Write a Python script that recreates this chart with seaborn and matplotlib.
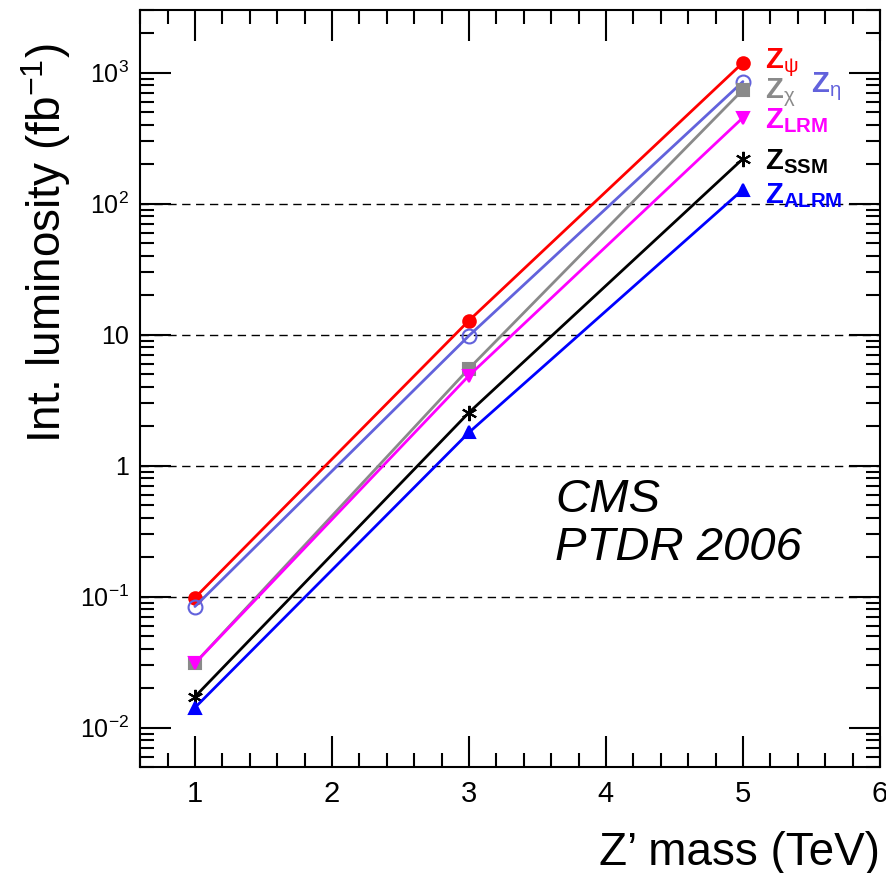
import numpy as np
import pandas as pd
import matplotlib
matplotlib.use("Agg")
import matplotlib.pyplot as plt
import matplotlib.ticker as mticker
import seaborn as sns

# Z' boson discovery reach: integrated luminosity needed vs. Z' mass
mass_tev = [1, 3, 5]
lumi_psi = [0.098, 12.8, 1190]
lumi_eta = [0.084, 9.8, 854]
lumi_chi = [0.031, 5.5, 740]
lumi_lrm = [0.031, 4.86, 453]
lumi_ssm = [0.0172, 2.54, 220]
lumi_alrm = [0.0142, 1.79, 128]

model_keys = ["psi", "eta", "chi", "LRM", "SSM", "ALRM"]
model_labels = [r"$\mathbf{Z}_{\mathrm{\psi}}$", r"$\mathbf{Z}_{\mathrm{\eta}}$",
                r"$\mathbf{Z}_{\mathrm{\chi}}$", r"$\mathbf{Z}_{\mathbf{LRM}}$",
                r"$\mathbf{Z}_{\mathbf{SSM}}$", r"$\mathbf{Z}_{\mathbf{ALRM}}$"]

xtick_vals = [1, 2, 3, 4, 5, 6]
ytick_vals = [1e-2, 1e-1, 1, 10, 1e2, 1e3]
ytick_labels = [r"$\mathregular{10^{-2}}$", r"$\mathregular{10^{-1}}$", "1", "10",
                r"$\mathregular{10^{2}}$", r"$\mathregular{10^{3}}$"]
grid_levels = [1e-1, 1, 10, 1e2]

series = {
    "psi": lumi_psi, "eta": lumi_eta, "chi": lumi_chi,
    "LRM": lumi_lrm, "SSM": lumi_ssm, "ALRM": lumi_alrm,
}
df = pd.concat(
    [pd.DataFrame({"mass": mass_tev, "lumi": vals, "model": key}) for key, vals in series.items()],
    ignore_index=True,
)

sns.set_theme(style="white")
plt.rcParams["font.family"] = ["Liberation Sans", "DejaVu Sans"]
plt.rcParams["mathtext.fontset"] = "custom"
plt.rcParams["mathtext.rm"] = "Liberation Sans"
plt.rcParams["mathtext.it"] = "Liberation Sans:italic"
plt.rcParams["mathtext.bf"] = "Liberation Sans:bold"
plt.rcParams["text.color"] = "black"
plt.rcParams["xtick.color"] = "black"
plt.rcParams["ytick.color"] = "black"
plt.rcParams["axes.labelcolor"] = "black"

styles = {
    "psi":  dict(color="#ff0000", marker="o", mfc="#ff0000", ms=9),
    "eta":  dict(color="#6262dc", marker="o", mfc="none", ms=10),
    "chi":  dict(color="#8a8a8a", marker="s", mfc="#8a8a8a", ms=9),
    "LRM":  dict(color="#ff00ff", marker="v", mfc="#ff00ff", ms=9),
    "SSM":  dict(color="#000000", marker=(6, 2, 0), mfc="#000000", ms=11),
    "ALRM": dict(color="#0000ff", marker="^", mfc="#0000ff", ms=9),
}

fig = plt.figure(figsize=(8.87, 8.73), dpi=100)
ax = fig.add_axes([0.158, 0.1214, 0.834, 0.867])

for key in model_keys:
    st = styles[key]
    sub = df[df["model"] == key]
    sns.lineplot(data=sub, x="mass", y="lumi", ax=ax, color=st["color"], linewidth=2,
                 marker=st["marker"], markersize=st["ms"], markerfacecolor=st["mfc"],
                 markeredgecolor=st["color"], markeredgewidth=1.5, legend=False)

ax.set_yscale("log")
ax.set_xlim(0.6, 6.0)
ax.set_ylim(0.005, 3000)

ax.hlines(grid_levels, 0.6, 6.0, colors="black", linestyles=(0, (6, 4)), linewidth=1.0, zorder=0)

# Model labels next to the 5 TeV points
lab_off = {"psi": (5.16, 0), "eta": (5.50, -4), "chi": (5.16, -2),
           "LRM": (5.16, -2), "SSM": (5.16, -2), "ALRM": (5.16, -4)}
for key, lab in zip(model_keys, model_labels):
    xl, dy = lab_off[key]
    ax.annotate(lab, xy=(xl, series[key][-1]), xytext=(0, dy), textcoords="offset points",
                color=styles[key]["color"], fontsize=21, ha="left", va="center")

ax.text(3.63, 0.8, "CMS\nPTDR 2006", fontsize=34, fontstyle="italic", ha="left", va="top",
        linespacing=1.1, color="black")

ax.xaxis.set_major_locator(mticker.FixedLocator(xtick_vals))
ax.xaxis.set_minor_locator(mticker.MultipleLocator(0.2))
ax.set_xticklabels([str(v) for v in xtick_vals])
ax.yaxis.set_major_locator(mticker.FixedLocator(ytick_vals))
ax.set_yticklabels(ytick_labels)
ax.yaxis.set_minor_locator(mticker.LogLocator(base=10, subs=np.arange(2, 10)))
ax.yaxis.set_minor_formatter(mticker.NullFormatter())

ax.tick_params(which="both", direction="in", top=True, right=True, bottom=True, left=True,
               width=1.5, color="black")
ax.tick_params(which="major", length=22)
ax.tick_params(which="minor", length=10)
ax.tick_params(axis="x", which="major", labelsize=21, pad=9, labelcolor="black")
ax.tick_params(axis="y", which="major", labelsize=18, pad=8, labelcolor="black")

for sp in ax.spines.values():
    sp.set_linewidth(1.5)
    sp.set_color("black")

ax.set_xlabel("Z’ mass (TeV)", fontsize=33, ha="right", color="black")
ax.xaxis.set_label_coords(1.0, -0.084)
ax.set_ylabel(r"Int. luminosity (fb$^{\mathregular{-1}}$)", fontsize=33, ha="center", color="black")
ax.yaxis.set_label_coords(-0.091, 0.692)

fig.savefig("out.png", dpi=100, facecolor="white")
